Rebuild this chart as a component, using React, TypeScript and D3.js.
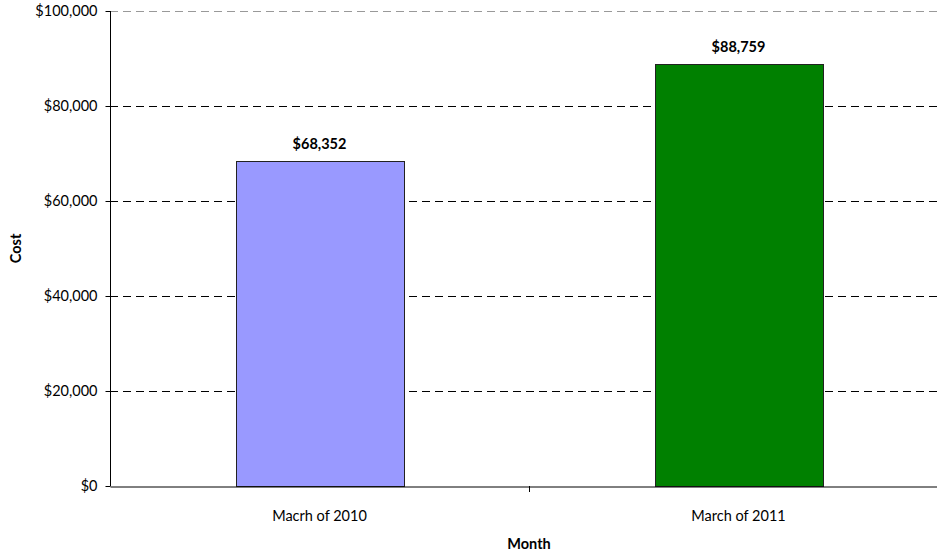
import React, { useEffect, useRef } from 'react';
import * as d3 from 'd3';

// data
const months = ['Macrh of 2010', 'March of 2011'];
const costs = [68352, 88759];
const barColors = ['#9999FF', '#008000'];
const yTicks = [0, 20000, 40000, 60000, 80000, 100000];

const App = () => {
  const svgRef = useRef<SVGSVGElement>(null);

  useEffect(() => {
    const svg = d3.select(svgRef.current);
    svg.selectAll('*').remove();

    const width = 937;
    const height = 552;
    const margin = { top: 11, right: -11, bottom: 66, left: 110 };
    const font = 'Lato, "Open Sans", sans-serif';
    const fs = '14.5px';

    const x = d3.scaleBand<string>()
      .domain(months)
      .range([margin.left, width - margin.right])
      .padding(0);

    const y = d3.scaleLinear()
      .domain([0, 100000])
      .range([height - margin.bottom, margin.top]);

    const g = svg.append('g');

    // Grid lines
    g.selectAll('.grid')
      .data(yTicks.filter(d => d > 0))
      .enter()
      .append('line')
      .attr('x1', margin.left)
      .attr('x2', width - margin.right)
      .attr('y1', d => Math.round(y(d)) + 0.5)
      .attr('y2', d => Math.round(y(d)) + 0.5)
      .attr('stroke', d => d === 100000 ? '#999' : '#000')
      .attr('stroke-width', 1)
      .attr('stroke-dasharray', '8,5');

    // Bars
    const barW = x.bandwidth() * 0.4;
    g.selectAll('.bar')
      .data(costs)
      .enter()
      .append('rect')
      .attr('x', (d, i) => Math.round(x(months[i])! + (x.bandwidth() - barW) / 2) + 0.5)
      .attr('y', d => Math.round(y(d)) + 0.5)
      .attr('width', Math.round(barW))
      .attr('height', d => Math.round(y(0)) - Math.round(y(d)))
      .attr('fill', (d, i) => barColors[i])
      .attr('stroke', '#222')
      .attr('stroke-width', 1);

    // Value labels
    g.selectAll('.label')
      .data(costs)
      .enter()
      .append('text')
      .attr('x', (d, i) => x(months[i])! + x.bandwidth() / 2)
      .attr('y', d => y(d) - 12)
      .attr('text-anchor', 'middle')
      .style('font-family', font)
      .style('font-size', fs)
      .style('font-weight', 'bold')
      .text(d => d3.format('$,')(d));

    // Y axis
    const yAxis = g.append('g')
      .attr('transform', `translate(${margin.left + 0.5},0)`)
      .call(d3.axisLeft(y).tickValues(yTicks).tickSize(5).tickPadding(8)
        .tickFormat(d => d3.format('$,')(d as number)));
    yAxis.select('.domain').attr('stroke', '#000').attr('d', `M0,${y(100000)}V${y(0)}`);
    yAxis.selectAll('.tick text').style('font-family', font).style('font-size', fs).attr('fill', '#000');

    // X axis
    const xAxis = g.append('g')
      .attr('transform', `translate(0,${Math.round(y(0)) + 0.5})`)
      .call(d3.axisBottom(x).tickSize(0).tickPadding(24));
    xAxis.select('.domain').attr('stroke', '#000');
    xAxis.selectAll('.tick text').style('font-family', font).style('font-size', fs).attr('fill', '#000');

    // category boundary ticks
    g.selectAll('.xtick')
      .data(months.slice(1))
      .enter()
      .append('line')
      .attr('x1', d => Math.round(x(d)!) + 0.5)
      .attr('x2', d => Math.round(x(d)!) + 0.5)
      .attr('y1', y(0))
      .attr('y2', y(0) + 6)
      .attr('stroke', '#000');

    // Axis titles
    svg.append('text')
      .attr('transform', `translate(21,${(y(0) + y(100000)) / 2}) rotate(-90)`)
      .attr('text-anchor', 'middle')
      .style('font-family', font)
      .style('font-size', fs)
      .style('font-weight', 'bold')
      .text('Cost');

    svg.append('text')
      .attr('x', margin.left + (width - margin.right - margin.left) / 2)
      .attr('y', 549)
      .attr('text-anchor', 'middle')
      .style('font-family', font)
      .style('font-size', fs)
      .style('font-weight', 'bold')
      .text('Month');
  }, []);

  return (
    <div style={{ position: 'absolute', left: 0, top: 0, background: '#fff' }}>
      <svg ref={svgRef} width={937} height={552} style={{ display: 'block' }}></svg>
    </div>
  );
};

export default App;
